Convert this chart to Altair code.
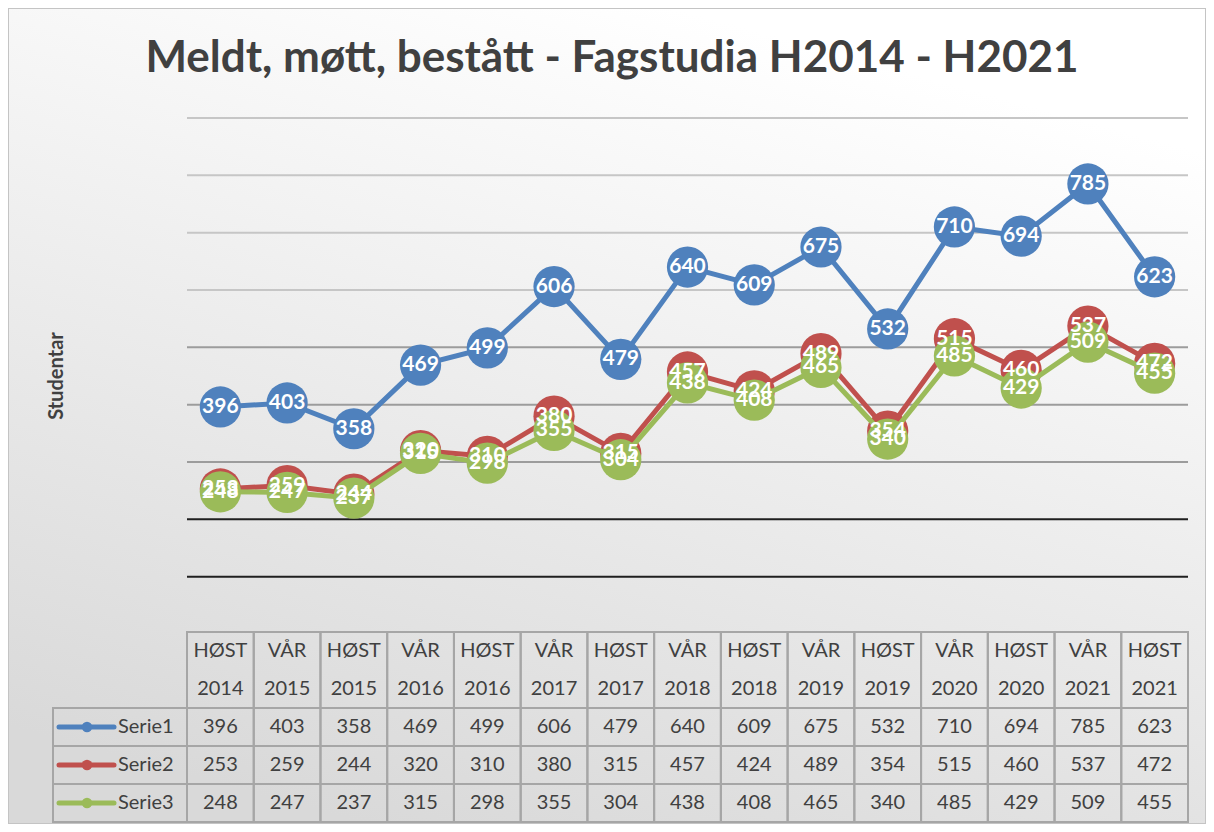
import altair as alt
import pandas as pd

# ---------------- data ----------------
terms = ["HØST", "VÅR", "HØST", "VÅR", "HØST", "VÅR", "HØST", "VÅR",
         "HØST", "VÅR", "HØST", "VÅR", "HØST", "VÅR", "HØST"]
years = ["2014", "2015", "2015", "2016", "2016", "2017", "2017", "2018",
         "2018", "2019", "2019", "2020", "2020", "2021", "2021"]
series_names = ["Serie1", "Serie2", "Serie3"]
serie1 = [396, 403, 358, 469, 499, 606, 479, 640, 609, 675, 532, 710, 694, 785, 623]
serie2 = [253, 259, 244, 320, 310, 380, 315, 457, 424, 489, 354, 515, 460, 537, 472]
serie3 = [248, 247, 237, 315, 298, 355, 304, 438, 408, 465, 340, 485, 429, 509, 455]
grid_values = [100, 200, 300, 400, 500, 600, 700, 800, 900]
title_text = "Meldt, møtt, bestått - Fagstudia H2014 - H2021"
y_title = "Studentar"

# ---------------- styles / layout ----------------
series_colors = ["#4F81BD", "#C0504D", "#9BBB59"]
TEXT = "#404040"
BORDER = "#a6a6a6"
FONT = "Lato"

PLOT_W = 1001
PLOT_H = 704
VAL_H = 516          # pixel height used by the value range 0..900
Y_MAX = 900
Y_MIN = -Y_MAX * (PLOT_H - VAL_H) / VAL_H
HEAD_TOP, HEAD_BOT, ROW_H = 514, 590, 38
LABEL_W = 134
PAD = {"left": 179, "top": 110, "right": 18, "bottom": 2}

cats = pd.DataFrame({"idx": list(range(len(terms))), "term": terms, "year": years})
values = [serie1, serie2, serie3]
long_rows = []
for r, (name, vals) in enumerate(zip(series_names, values)):
    for i, v in enumerate(vals):
        long_rows.append({"idx": i, "series": name, "row": r, "value": v})
long = pd.DataFrame(long_rows)
ser_df = pd.DataFrame({"series": series_names, "row": list(range(len(series_names)))})

x_scale = alt.Scale(domain=[-0.5, len(terms) - 0.5], nice=False, zero=False)
y_scale = alt.Scale(domain=[Y_MIN, Y_MAX], nice=False, zero=False)
color_enc = alt.Color("series:N", scale=alt.Scale(domain=series_names, range=series_colors), legend=None)
X = alt.X("idx:Q", scale=x_scale, axis=None)
Y = alt.Y("value:Q", scale=y_scale, axis=None)

one = pd.DataFrame({"a": [0]})

# background with soft gradient
bg = alt.Chart(one).mark_rect(
    fill=alt.LinearGradient(
        gradient="linear", x1=0.7, y1=0, x2=0.3, y2=1,
        stops=[alt.GradientStop(color="#ffffff", offset=0.05),
               alt.GradientStop(color="#d9d9d9", offset=1)]),
    stroke="#c4c4c4", strokeWidth=2,
).encode(
    x=alt.value(-PAD["left"]), x2=alt.value(PLOT_W + PAD["right"]),
    y=alt.value(-PAD["top"]), y2=alt.value(PLOT_H + PAD["bottom"]),
)

title = alt.Chart(pd.DataFrame({"t": [title_text]})).mark_text(
    font=FONT, fontSize=44, fontWeight="bold", color=TEXT, align="center", baseline="alphabetic"
).encode(x=alt.value(425), y=alt.value(-46), text="t:N")

grid_df = pd.DataFrame({"v": grid_values})
grid_base = alt.Chart(grid_df).encode(y=alt.Y("v:Q", scale=y_scale, axis=None))
grid_light = grid_base.transform_filter("datum.v >= 600").mark_rule(strokeWidth=2, color="#c6c6c6")
grid_mid = grid_base.transform_filter("datum.v >= 300 && datum.v < 600").mark_rule(strokeWidth=2, color="#9c9c9c")
grid_dark = grid_base.transform_filter("datum.v < 300").mark_rule(strokeWidth=2, color="#1f1f1f")

series_layers = []
for name in series_names:
    base = alt.Chart(long).transform_filter(alt.datum.series == name).encode(x=X, y=Y, color=color_enc)
    series_layers.append(base.mark_line(strokeWidth=5))
    series_layers.append(base.mark_circle(size=1700, opacity=1))

labels = alt.Chart(long).mark_text(
    color="white", font=FONT, fontWeight="bold", fontSize=21, baseline="middle", align="center"
).encode(x=X, y=Y, text="value:Q")

# ---------------- data table ----------------
cell_style = dict(fill="transparent", stroke=BORDER, strokeWidth=2)
txt_style = dict(font=FONT, fontSize=20, color=TEXT, baseline="middle")

head_cells = alt.Chart(cats).transform_calculate(
    x0="datum.idx - 0.5", x1="datum.idx + 0.5"
).mark_rect(**cell_style).encode(
    x=alt.X("x0:Q", scale=x_scale, axis=None), x2="x1:Q",
    y=alt.value(HEAD_TOP), y2=alt.value(HEAD_BOT),
)
head_t1 = alt.Chart(cats).mark_text(align="center", **txt_style).encode(
    x=X, y=alt.value(HEAD_TOP + 19), text="term:N")
head_t2 = alt.Chart(cats).mark_text(align="center", **txt_style).encode(
    x=X, y=alt.value(HEAD_TOP + 57), text="year:N")

row_calc = dict(
    yt=f"{HEAD_BOT} + datum.row * {ROW_H}",
    yb=f"{HEAD_BOT} + (datum.row + 1) * {ROW_H}",
    yc=f"{HEAD_BOT} + (datum.row + 0.5) * {ROW_H}",
)

data_cells = alt.Chart(long).transform_calculate(
    x0="datum.idx - 0.5", x1="datum.idx + 0.5", **row_calc
).mark_rect(**cell_style).encode(
    x=alt.X("x0:Q", scale=x_scale, axis=None), x2="x1:Q",
    y=alt.Y("yt:Q", scale=None), y2="yb:Q",
)
data_text = alt.Chart(long).transform_calculate(**row_calc).mark_text(align="center", **txt_style).encode(
    x=X, y=alt.Y("yc:Q", scale=None), text="value:Q")

label_cells = alt.Chart(ser_df).transform_calculate(**row_calc).mark_rect(**cell_style).encode(
    x=alt.value(-LABEL_W), x2=alt.value(0),
    y=alt.Y("yt:Q", scale=None), y2="yb:Q",
)
leg_lines = alt.Chart(ser_df).transform_calculate(**row_calc).mark_rule(strokeWidth=5, strokeCap="round").encode(
    x=alt.value(-128), x2=alt.value(-73), y=alt.Y("yc:Q", scale=None), color=color_enc)
leg_dots = alt.Chart(ser_df).transform_calculate(**row_calc).mark_circle(size=110, opacity=1).encode(
    x=alt.value(-100), y=alt.Y("yc:Q", scale=None), color=color_enc)
leg_text = alt.Chart(ser_df).transform_calculate(**row_calc).mark_text(align="left", **txt_style).encode(
    x=alt.value(-69), y=alt.Y("yc:Q", scale=None), text="series:N")

ytitle = alt.Chart(pd.DataFrame({"t": [y_title]})).mark_text(
    angle=270, font=FONT, fontWeight="bold", fontSize=20, color=TEXT, baseline="middle", align="center"
).encode(x=alt.value(-130), y=alt.value(VAL_H / 2), text="t:N")

chart = alt.layer(
    bg, title, grid_light, grid_mid, grid_dark, *series_layers, labels,
    head_cells, head_t1, head_t2, data_cells, data_text,
    label_cells, leg_lines, leg_dots, leg_text, ytitle,
).properties(
    width=PLOT_W, height=PLOT_H,
    autosize=alt.AutoSizeParams(type="none"),
    padding=PAD,
).configure_view(stroke="transparent")

chart.save("out.html", embed_options={"renderer": "svg", "actions": False})
